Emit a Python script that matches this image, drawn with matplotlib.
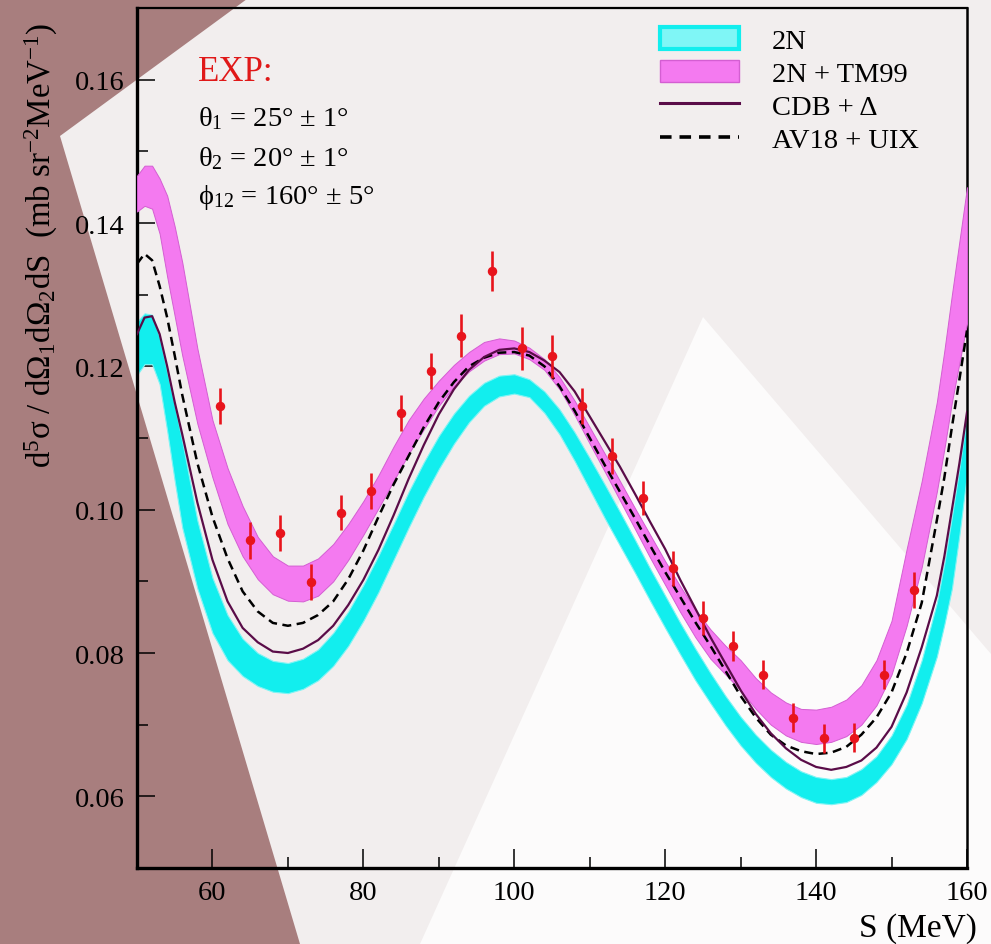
import matplotlib
matplotlib.use("Agg")
import matplotlib.pyplot as plt
from matplotlib.patches import Patch, Polygon
from matplotlib.lines import Line2D
from matplotlib.ticker import MultipleLocator, FormatStrFormatter

plt.rcParams['font.family'] = ['Liberation Serif', 'DejaVu Serif']
plt.rcParams['mathtext.fontset'] = 'custom'
plt.rcParams['mathtext.rm'] = 'Liberation Serif'
plt.rcParams['mathtext.it'] = 'Liberation Serif:italic'
plt.rcParams['mathtext.bf'] = 'Liberation Serif:bold'

# ---------------- data ----------------
S = [50, 51, 52, 53, 54, 55, 56, 58, 60, 62, 64, 66, 68, 70, 72, 74, 76, 78, 80, 82,
     84, 86, 88, 90, 92, 94, 96, 98, 100, 102, 104, 106, 108, 110, 112, 114, 116, 118,
     120, 122, 124, 126, 128, 130, 132, 134, 136, 138, 140, 142, 144, 146, 148, 150,
     152, 154, 156, 157, 158, 159, 160]

cdb_delta = [.1245, .1268, .1270, .1245, .1200, .1150, .1105, .1010, .0930, .0872, .0835,
             .0815, .0802, .0800, .0806, .0818, .0838, .0867, .0902, .0944, .0992, .1043,
             .1090, .1133, .1168, .1195, .1213, .1223, .1225, .1220, .1208, .1192, .1165,
             .1130, .1095, .1060, .1022, .0983, .0945, .0902, .0862, .0822, .0785, .0748,
             .0715, .0688, .0667, .0651, .0641, .0637, .0641, .0650, .0668, .0697, .0745,
             .0808, .0880, .0935, .1000, .1065, .1136]

av18_uix = [.1343, .1357, .1348, .1312, .1268, .1215, .1160, .1065, .0990, .0932, .0886,
            .0858, .0842, .0838, .0842, .0853, .0872, .0903, .0943, .0990, .1035, .1075,
            .1115, .1150, .1178, .1200, .1212, .1219, .1220, .1215, .1200, .1172, .1138,
            .1100, .1062, .1025, .0988, .0950, .0913, .0878, .0843, .0810, .0775, .0740,
            .0710, .0686, .0671, .0663, .0659, .0661, .0669, .0686, .0710, .0745, .0800,
            .0870, .0985, .1045, .1115, .1182, .1250]

tm99_hi = [.1466, .1480, .1480, .1462, .1438, .1395, .1345, .1225, .1125, .1058, .1005,
           .0962, .0935, .0922, .0922, .0932, .0952, .0980, .1012, .1048, .1088, .1125,
           .1155, .1180, .1202, .1220, .1234, .1239, .1236, .1226, .1210, .1185, .1152,
           .1115, .1078, .1040, .1002, .0965, .0928, .0893, .0860, .0833, .0810, .0790,
           .0765, .0745, .0731, .0722, .0721, .0725, .0735, .0755, .0790, .0845, .0945,
           .1040, .1150, .1222, .1300, .1375, .1450]

tm99_lo = [.1416, .1424, .1420, .1385, .1325, .1270, .1215, .1120, .1045, .0980, .0935,
           .0903, .0882, .0873, .0872, .0880, .0900, .0930, .0965, .1002, .1040, .1078,
           .1112, .1145, .1172, .1193, .1208, .1217, .1218, .1210, .1195, .1168, .1132,
           .1092, .1053, .1013, .0973, .0933, .0895, .0857, .0822, .0792, .0770, .0748,
           .0722, .0700, .0685, .0676, .0673, .0676, .0684, .0700, .0727, .0770, .0838,
           .0920, .1025, .1085, .1150, .1205, .1260]

nn_hi = [.1262, .1274, .1272, .1240, .1192, .1145, .1095, .0985, .0905, .0853, .0820,
         .0800, .0789, .0786, .0792, .0805, .0828, .0858, .0895, .0936, .0980, .1025,
         .1066, .1103, .1134, .1159, .1177, .1187, .1189, .1182, .1165, .1140, .1108,
         .1072, .1035, .0997, .0958, .0918, .0880, .0842, .0806, .0772, .0740, .0711,
         .0686, .0665, .0648, .0635, .0627, .0624, .0627, .0638, .0656, .0685, .0728,
         .0790, .0870, .0925, .0990, .1058, .1130]

nn_lo = [.1188, .1203, .1203, .1175, .1110, .1040, .0975, .0890, .0828, .0790, .0768,
         .0754, .0746, .0744, .0750, .0762, .0782, .0810, .0845, .0885, .0930, .0975,
         .1018, .1057, .1092, .1122, .1145, .1158, .1162, .1157, .1135, .1105, .1068,
         .1028, .0988, .0950, .0912, .0873, .0835, .0798, .0762, .0730, .0699, .0671,
         .0647, .0627, .0611, .0599, .0591, .0589, .0592, .0602, .0620, .0645, .0680,
         .0730, .0795, .0840, .0890, .0965, .1050]

exp_S = [61, 65, 69, 73, 77, 81, 85, 89, 93, 97, 101, 105, 109, 113, 117, 121, 125,
         129, 133, 137, 141, 145, 149, 153]
exp_val = [0.1145, 0.0957, 0.0967, 0.0899, 0.0996, 0.1026, 0.1135, 0.1194, 0.1243,
           0.1333, 0.1225, 0.1214, 0.1145, 0.1075, 0.1016, 0.0918, 0.0849, 0.0810,
           0.0770, 0.0710, 0.0681, 0.0682, 0.0770, 0.0888]
exp_err = [0.0025, 0.0026, 0.0025, 0.0025, 0.0025, 0.0025, 0.0025, 0.0025, 0.0030,
           0.0028, 0.0030, 0.0030, 0.0025, 0.0025, 0.0024, 0.0025, 0.0024, 0.0021,
           0.0020, 0.0020, 0.0020, 0.0020, 0.0020, 0.0025]

legend_labels = ['2N', '2N + TM99', 'CDB + Δ', 'AV18 + UIX']
x_ticks = [60, 80, 100, 120, 140, 160]
y_ticks = [0.06, 0.08, 0.10, 0.12, 0.14, 0.16]

# ---------------- figure ----------------
W, H = 991, 945
fig = plt.figure(figsize=(W / 100, H / 100), dpi=100)
fig.patch.set_facecolor('#f2eeee')

# decorative background
bg = fig.add_axes([0, 0, 1, 1], zorder=-10)
bg.set_xlim(0, W)
bg.set_ylim(H, 0)
bg.axis('off')
bg.add_patch(Polygon([(703, 318), (991, 655), (991, 945), (420, 945)],
                     closed=True, facecolor='#fcfbfb', edgecolor='none'))
bg.add_patch(Polygon([(0, 0), (247, 0), (60, 137), (300, 945), (0, 945)], closed=True,
                     facecolor='#a87e7e', edgecolor='none'))

ax = fig.add_axes([137 / W, 1 - 869 / H, (967 - 137) / W, (869 - 9) / H])
ax.set_facecolor('none')

ax.fill_between(S, nn_lo, nn_hi, facecolor='#12eeee', edgecolor='#7ff4f4',
                linewidth=0.8, zorder=2)
ax.fill_between(S, tm99_lo, tm99_hi, facecolor='#f47af0', edgecolor='#d45ed2',
                linewidth=0.7, zorder=3)
ax.plot(S, av18_uix, color='black', lw=1.8, dashes=(3.6, 2.2), zorder=4)
ax.plot(S, cdb_delta, color='#5a0c48', lw=1.6, zorder=5)
ax.errorbar(exp_S, exp_val, yerr=exp_err, fmt='o', color='#e8141c', ms=5.8,
            elinewidth=1.9, capsize=0, zorder=6)

ax.set_xlim(50, 160)
ax.set_ylim(0.05, 0.17)
ax.set_xticks(x_ticks)
ax.set_yticks(y_ticks)
ax.xaxis.set_minor_locator(MultipleLocator(10))
ax.yaxis.set_minor_locator(MultipleLocator(0.01))
ax.yaxis.set_major_formatter(FormatStrFormatter('%.2f'))
ax.tick_params(which='both', direction='in', top=False, right=False, width=1.1,
               labelsize=20.5, colors='black')
ax.tick_params(axis='x', which='major', length=13.7, pad=9)
ax.tick_params(axis='y', which='major', length=13, pad=9)
ax.tick_params(which='minor', length=8)
for side, lw in [('left', 2.4), ('bottom', 2.4), ('top', 1.6), ('right', 1.8)]:
    ax.spines[side].set_linewidth(lw)

# axis titles
fig.text(977 / W, 1 - 937 / H, 'S (MeV)', fontsize=24, ha='right', va='baseline')
fig.text(51 / W, 1 - 468 / H,
         r'd$^{5}$σ / dΩ$_{1}$dΩ$_{2}$dS  (mb sr$^{-2}$MeV$^{-1}$)',
         fontsize=23.7, rotation=90, rotation_mode='anchor', ha='left', va='baseline')

# annotations
fig.text(198 / W, 1 - 81 / H, 'EXP:', fontsize=25, color='#e01818', va='baseline')
fig.text(198 / W, 1 - 126 / H, r'θ$_{1}$ = 25° ± 1°', fontsize=20.5, va='baseline')
fig.text(198 / W, 1 - 166 / H, r'θ$_{2}$ = 20° ± 1°', fontsize=20.5, va='baseline')
fig.text(198 / W, 1 - 204 / H, r'ϕ$_{12}$ = 160° ± 5°', fontsize=20.5, va='baseline')

handles = [Patch(facecolor='#7ff6f6', edgecolor='#12eeee', linewidth=3),
           Patch(facecolor='#f47af0', edgecolor='#d45ed2', linewidth=1),
           Line2D([], [], color='#5a0c48', lw=2.2),
           Line2D([], [], color='black', lw=2.6, dashes=(3.2, 2.2))]
leg = ax.legend(handles, legend_labels, loc='upper left',
                bbox_to_anchor=(660 / W, 1 - 28 / H), bbox_transform=fig.transFigure,
                frameon=False, fontsize=20.5, handlelength=2.77, handleheight=0.8,
                handletextpad=1.15, labelspacing=0.22, borderpad=0, borderaxespad=0)

fig.savefig('out.png', dpi=100)
